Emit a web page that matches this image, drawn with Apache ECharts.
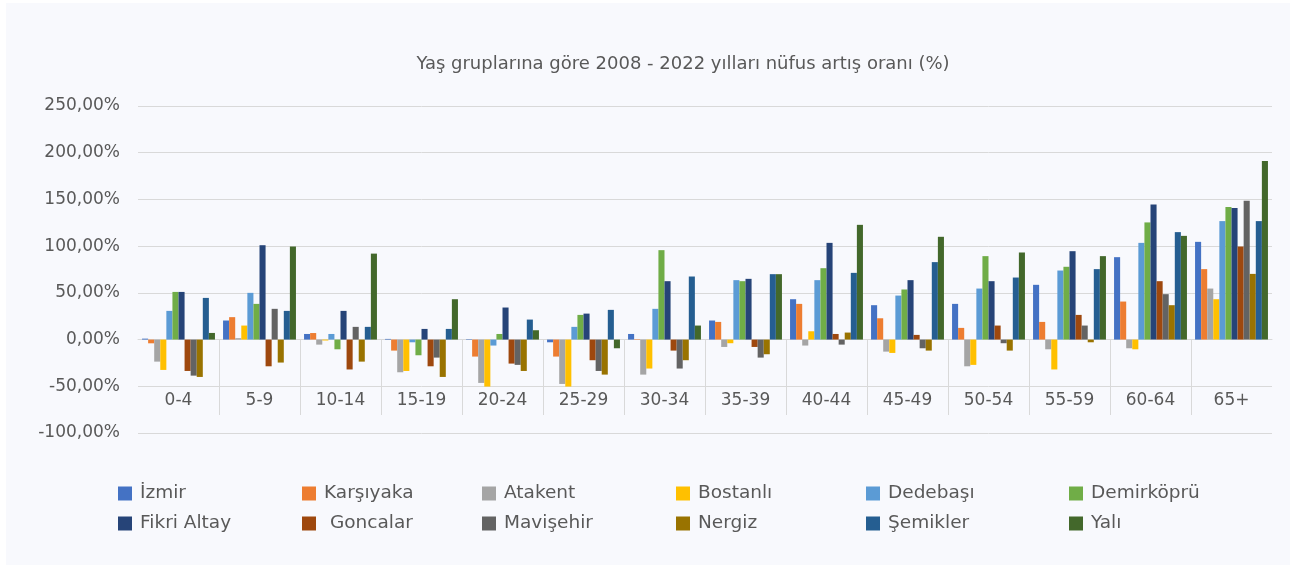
<!DOCTYPE html>
<html lang="tr">
<head>
    <meta charset="UTF-8">
    <title>Nüfus artış oranı</title>
    <script src="https://cdn.jsdelivr.net/npm/echarts@6/dist/echarts.min.js"></script>
    <style>
        body { margin: 0; background: #ffffff; }
        .box {
            position: absolute;
            left: 6px;
            top: 3px;
            width: 1284px;
            height: 562px;
            background: #f8f9fd;
        }
    </style>
</head>
<body>
    <div class="box"></div>
<script>
// yaş grupları
let yasGruplari = ['0-4', '5-9', '10-14', '15-19', '20-24', '25-29', '30-34', '35-39', '40-44', '45-49', '50-54', '55-59', '60-64', '65+']

// her mahalle için artış oranı (%)
let izmir      = [1, 20.4, 6, 0.7, 0.5, -2.9, 6, 20.4, 43.2, 36.8, 38.2, 58.6, 88.2, 104.6]
let karsiyaka  = [-4, 24, 7, -11.8, -18.2, -18.2, 0.5, 18.9, 38.2, 22.8, 12.5, 18.9, 40.7, 75.4]
let atakent    = [-23.6, 1.5, -5.4, -35, -46.4, -47.5, -37.5, -7.9, -6.4, -12.9, -28.6, -10.4, -9.3, 54.6]
let bostanli   = [-32.5, 15, -1, -33.6, -50.3, -50.3, -31, -3.9, 8.9, -14.3, -27.1, -32, -10.4, 43.2]
let dedebasi   = [30.7, 50, 6, -2.9, -6.4, 13.6, 32.9, 63.6, 63.6, 47.1, 54.6, 73.9, 103.5, 126.8]
let demirkopru = [51, 38.2, -10.4, -16.8, 6, 26.4, 95.7, 62.5, 76.4, 53.6, 89.3, 77.9, 125.4, 142]
let fikriAltay = [51, 101, 30.7, 11.4, 34.3, 27.8, 62.5, 65, 103.5, 63.6, 62.5, 94.6, 144.6, 140.7]
let goncalar   = [-33.6, -28.6, -32, -28.6, -25.7, -22.1, -11.8, -7.9, 6, 5, 15, 26.4, 62.5, 99.6]
let mavisehir  = [-38.6, 32.9, 13.6, -19.3, -27.1, -33.6, -31, -19.3, -5.4, -9.3, -3.9, 15, 48.6, 148.6]
let nergiz     = [-40, -24.6, -23.6, -40, -33.6, -37.5, -22.1, -15.7, 7.5, -11.8, -11.8, -2.9, 36.8, 70.3]
let semikler   = [44.6, 30.7, 13.6, 11.4, 21.4, 31.8, 67.5, 70, 71.4, 82.9, 66.4, 75.4, 115, 126.8]
let yali       = [7.1, 99.6, 92, 43.2, 10, -9.3, 15, 70, 122.8, 110, 93.2, 89.3, 111, 191]

let seriler = [
    { ad: 'İzmir', veri: izmir, renk: '#4472C4' },
    { ad: 'Karşıyaka', veri: karsiyaka, renk: '#ED7D31' },
    { ad: 'Atakent', veri: atakent, renk: '#A5A5A5' },
    { ad: 'Bostanlı', veri: bostanli, renk: '#FFC000' },
    { ad: 'Dedebaşı', veri: dedebasi, renk: '#5B9BD5' },
    { ad: 'Demirköprü', veri: demirkopru, renk: '#70AD47' },
    { ad: 'Fikri Altay', veri: fikriAltay, renk: '#264478' },
    { ad: ' Goncalar', veri: goncalar, renk: '#9E480E' },
    { ad: 'Mavişehir', veri: mavisehir, renk: '#636363' },
    { ad: 'Nergiz', veri: nergiz, renk: '#997300' },
    { ad: 'Şemikler', veri: semikler, renk: '#255E91' },
    { ad: 'Yalı', veri: yali, renk: '#43682B' }
]

let yaziRengi = '#595959'
let yaziTipi = '"DejaVu Sans", sans-serif'

// lejant: 6 sütun, her sütunda 2 kalem
let sutunX = [107, 291, 471, 665, 855, 1058]
let lejantlar = sutunX.map((x, i) => ({
    orient: 'vertical',
    left: x,
    top: 476,
    itemWidth: 14,
    itemHeight: 14,
    itemGap: 11,
    icon: 'rect',
    selectedMode: false,
    data: [seriler[i].ad, seriler[i + 6].ad],
    textStyle: { color: yaziRengi, fontSize: 18.5, fontFamily: yaziTipi, padding: [0, 0, 0, 3] }
}))

let grafik = echarts.init(document.querySelector('.box'))
let secenek = {
    animation: false,
    textStyle: { fontFamily: yaziTipi },
    title: {
        text: 'Yaş gruplarına göre 2008 - 2022 yılları nüfus artış oranı (%)',
        left: 672,
        top: 47,
        textAlign: 'center',
        textStyle: { color: yaziRengi, fontSize: 18, fontWeight: 'normal', fontFamily: yaziTipi }
    },
    grid: { left: 132, right: 18, top: 103, bottom: 132 },
    legend: lejantlar,
    xAxis: [
        {
            type: 'category',
            data: yasGruplari,
            axisLine: { onZero: true, lineStyle: { color: '#d9d9d9' } },
            axisTick: { show: false },
            axisLabel: { color: yaziRengi, fontSize: 17, margin: -41, interval: 0, fontFamily: yaziTipi }
        },
        {
            // gruplar arası ayırıcı çizgiler için yardımcı eksen (kenarlarda çizgi yok)
            type: 'category',
            data: yasGruplari.concat(['']).map(() => ''),
            boundaryGap: false,
            position: 'bottom',
            offset: -18,
            axisLine: { show: false, onZero: false },
            axisLabel: { show: false },
            axisTick: {
                show: true,
                inside: true,
                length: 75,
                interval: (i) => i !== 0 && i !== yasGruplari.length,
                lineStyle: { color: '#d9d9d9' }
            }
        }
    ],
    yAxis: {
        type: 'value',
        min: -100,
        max: 250,
        interval: 50,
        splitLine: { lineStyle: { color: '#d9d9d9' } },
        axisLine: { show: false },
        axisTick: { show: false },
        axisLabel: {
            color: yaziRengi,
            fontSize: 17,
            margin: 18,
            fontFamily: yaziTipi,
            formatter: v => v.toFixed(2).replace('.', ',') + '%'
        }
    },
    series: seriler.map(s => ({
        name: s.ad,
        type: 'bar',
        data: s.veri,
        barGap: '0%',
        barCategoryGap: '10%',
        itemStyle: { color: s.renk }
    }))
}
grafik.setOption(secenek)
</script>
</body>
</html>
